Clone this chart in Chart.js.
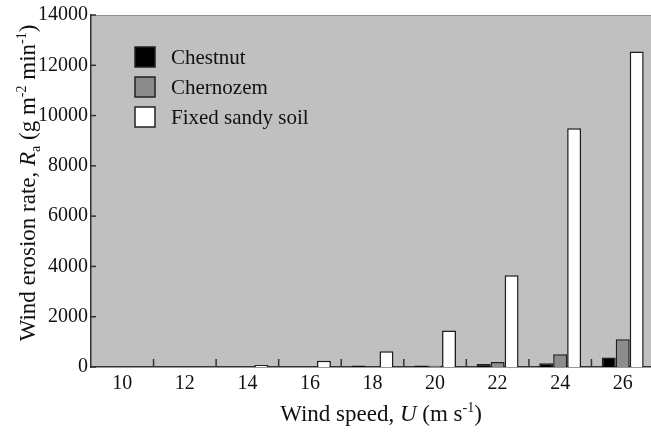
<!DOCTYPE html>
<html>
<head>
<meta charset="utf-8">
<script src="https://cdn.jsdelivr.net/npm/chart.js@4.4.1/dist/chart.umd.min.js"></script>
<style>
  html, body { margin: 0; padding: 0; background: #fff; overflow: hidden; }
  canvas { display: block; }
</style>
</head>
<body>
<canvas id="erosion-chart" width="656" height="436"></canvas>
<script>
// wind speed categories (m/s)
const windSpeeds = ['10', '12', '14', '16', '18', '20', '22', '24', '26'];

// erosion rates (g m-2 min-1)
const chestnut = [0, 0, 0, 0, 60, 60, 120, 150, 380];
const chernozem = [0, 0, 0, 0, 0, 50, 200, 510, 1100];
const fixedSandy = [0, 0, 80, 250, 630, 1450, 3650, 9500, 12550];

const yMax = 14000;
const yStep = 2000;

const serif = '"Liberation Serif", "DejaVu Serif", serif';

// draws a string made of parts: normal, italic, sup, sub
function richText(ctx, parts, size) {
  const fontFor = p => {
    const s = (p.k === 'sup' || p.k === 'sub') ? Math.round(size * 0.6) : size;
    return (p.k === 'it' ? 'italic ' : '') + s + 'px ' + serif;
  };
  let total = 0;
  parts.forEach(p => { ctx.font = fontFor(p); total += ctx.measureText(p.t).width; });
  let x = -total / 2;
  parts.forEach(p => {
    ctx.font = fontFor(p);
    let dy = 0;
    if (p.k === 'sup') dy = -size * 0.38;
    if (p.k === 'sub') dy = size * 0.2;
    ctx.fillText(p.t, x, dy);
    x += ctx.measureText(p.t).width;
  });
}

const figurePlugin = {
  id: 'figure',
  beforeDraw(chart) {
    const { ctx, chartArea: a } = chart;
    ctx.save();
    ctx.fillStyle = '#c0c0c0';
    ctx.fillRect(a.left, a.top, a.right - a.left, a.bottom - a.top);
    ctx.strokeStyle = '#8e8e8e';
    ctx.lineWidth = 1;
    ctx.beginPath();
    ctx.moveTo(a.left, a.top + 0.5);
    ctx.lineTo(a.right, a.top + 0.5);
    ctx.stroke();
    ctx.restore();
  },
  afterDatasetsDraw(chart) {
    const { ctx, chartArea: a, scales } = chart;
    ctx.save();
    ctx.strokeStyle = '#333';
    ctx.lineWidth = 1.5;
    // inward y ticks
    scales.y.ticks.forEach(t => {
      const y = scales.y.getPixelForValue(t.value);
      ctx.beginPath();
      ctx.moveTo(a.left, y);
      ctx.lineTo(a.left + 5, y);
      ctx.stroke();
    });
    // inward x ticks between categories
    const n = windSpeeds.length;
    const w = (a.right - a.left) / n;
    for (let i = 1; i < n; i++) {
      const x = a.left + i * w;
      ctx.beginPath();
      ctx.moveTo(x, a.bottom);
      ctx.lineTo(x, a.bottom - 8);
      ctx.stroke();
    }

    // legend inside the plot
    ctx.textBaseline = 'middle';
    ctx.font = '21px ' + serif;
    chart.data.datasets.forEach((ds, i) => {
      const bx = 135, by = 47 + i * 30;
      ctx.fillStyle = ds.backgroundColor;
      ctx.fillRect(bx, by, 20, 20);
      ctx.strokeStyle = '#222';
      ctx.lineWidth = 1.5;
      ctx.strokeRect(bx, by, 20, 20);
      ctx.fillStyle = '#111';
      ctx.fillText(ds.label, 171, by + 11);
    });

    // axis titles
    ctx.fillStyle = '#111';
    ctx.textBaseline = 'alphabetic';
    ctx.translate(381, 421);
    richText(ctx, [
      { t: 'Wind speed, ' }, { t: 'U', k: 'it' }, { t: ' (m s' }, { t: '-1', k: 'sup' }, { t: ')' }
    ], 23);
    ctx.setTransform(1, 0, 0, 1, 0, 0);
    ctx.translate(35, 183);
    ctx.rotate(-Math.PI / 2);
    richText(ctx, [
      { t: 'Wind erosion rate, ' }, { t: 'R', k: 'it' }, { t: 'a', k: 'sub' },
      { t: ' (g m' }, { t: '-2', k: 'sup' }, { t: ' min' }, { t: '-1', k: 'sup' }, { t: ')' }
    ], 23);
    ctx.restore();
  }
};

const barStyle = { borderColor: '#1e1e1e', borderWidth: 1.5, categoryPercentage: 0.67, barPercentage: 1.0 };

new Chart(document.getElementById('erosion-chart'), {
  type: 'bar',
  data: {
    labels: windSpeeds,
    datasets: [
      { label: 'Chestnut', data: chestnut, backgroundColor: '#000000', ...barStyle },
      { label: 'Chernozem', data: chernozem, backgroundColor: '#8c8c8c', ...barStyle },
      { label: 'Fixed sandy soil', data: fixedSandy, backgroundColor: '#ffffff', ...barStyle }
    ]
  },
  options: {
    responsive: false,
    animation: false,
    layout: { padding: { left: 30, top: 13, right: 2, bottom: 0 } },
    plugins: {
      legend: { display: false },
      tooltip: { enabled: false }
    },
    scales: {
      x: {
        grid: { display: false, drawTicks: false },
        border: { display: true, color: '#333', width: 1.5 },
        ticks: { color: '#111', font: { family: serif, size: 20 }, padding: 5, maxRotation: 0 },
        afterFit: s => { s.height = 69; }
      },
      y: {
        min: 0,
        max: yMax,
        grid: { display: false, drawTicks: false },
        border: { display: true, color: '#333', width: 1.5 },
        ticks: { stepSize: yStep, color: '#111', font: { family: serif, size: 20 }, padding: 3,
          callback: v => String(v) },
        afterFit: s => { s.width = 61; }
      }
    }
  },
  plugins: [figurePlugin]
});
</script>
</body>
</html>
